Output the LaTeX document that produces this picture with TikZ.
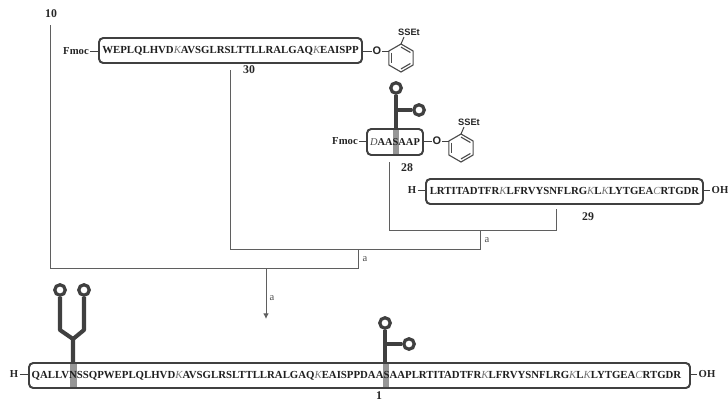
\documentclass[tikz,border=0pt]{standalone}
\usepackage{fontspec}
\setmainfont{Liberation Serif}
\newfontfamily\ringfont{Liberation Sans}
\usetikzlibrary{arrows.meta,backgrounds,calc}
\definecolor{stemgray}{RGB}{64,64,64}
\definecolor{bandgray}{RGB}{150,150,150}
\definecolor{linegray}{RGB}{95,95,95}
\newcommand{\lys}{{\mdseries\itshape\color{black!55}K}}
\newcommand{\cys}{{\mdseries\itshape\color{black!55}C}}
\newcommand{\asp}{{\mdseries\itshape\color{black!70}D}}
% thioester ring: #1 name, #2 box it hangs on, #3 x of O, #4 y of O
\newcommand{\thioring}[4]{
\node[oxy] (#1O) at (#3,#4) {O};
\draw[bond] (#2.east |- #1O) -- (#1O);
\foreach \k in {1,...,6} {\coordinate (#1r\k) at ($(#3+24,#4+7)+(30+60*\k:14 and -14)$);}
\draw[ringbond] (#1r1) -- (#1r2) -- (#1r3) -- (#1r4) -- (#1r5) -- (#1r6) -- cycle;
\draw[ringbond] ($(#3+24,#4+7)!0.78!(#1r6)$) -- ($(#3+24,#4+7)!0.78!(#1r1)$);
\draw[ringbond] ($(#3+24,#4+7)!0.78!(#1r2)$) -- ($(#3+24,#4+7)!0.78!(#1r3)$);
\draw[ringbond] ($(#3+24,#4+7)!0.78!(#1r4)$) -- ($(#3+24,#4+7)!0.78!(#1r5)$);
\draw[bond] (#1O) -- (#1r2);
\node[sset] (#1S) at (#3+32,#4-19) {SSEt};
\draw[bond] (#1r1) -- (#3+27,#4-14);
}
\tikzset{peptide/.style={rectangle, rounded corners=3pt, draw=stemgray, line width=1.4pt, inner sep=0pt, minimum height=25*0.025cm, font=\fontsize{7.68}{9}\selectfont\bfseries, text=black!88},
label/.style={font=\fontsize{8.4}{10}\selectfont\bfseries, inner sep=0pt, text=black!85},
endgroup/.style={font=\fontsize{7.6}{9}\selectfont\bfseries, inner sep=1pt, text=black!85},
oxy/.style={font=\ringfont\fontsize{7.8}{8}\selectfont\bfseries, inner sep=0.3pt, text=black!85},
sset/.style={font=\ringfont\fontsize{6.6}{8}\selectfont\bfseries, inner sep=0pt, text=black!85},
bond/.style={draw=black!75, line width=0.7pt},
ringbond/.style={draw=black!70, line width=0.8pt},
link/.style={draw=linegray, line width=0.7pt},
step label/.style={font=\fontsize{7.5}{8}\selectfont, inner sep=0pt, text=black!70},
stem/.style={draw=stemgray, line width=2.9pt, line join=round},
bead/.style={circle, draw=stemgray, line width=2.3pt, fill=white, inner sep=0pt, minimum size=10.5*0.025cm},
band/.style={fill=bandgray, draw=none}}
\begin{document}
\begin{tikzpicture}[x=0.025cm,y=-0.025cm]
\useasboundingbox (0,0) rectangle (728,402);
% building blocks
\node[peptide, minimum width=263*0.025cm] (p30) at (230.5,50.5) {WEPLQLHVD\lys AVSGLRSLTTLLRALGAQ\lys EAISPP};
\node[peptide, minimum width=56*0.025cm, minimum height=26*0.025cm, font=\fontsize{7.4}{9}\selectfont\bfseries] (p28) at (395,142) {\asp AASAAP};
\node[peptide, minimum width=277*0.025cm] (p29) at (564.5,191.5) {LRTITADTFR\lys LFRVYSNFLRG\lys L\lys LYTGEA\cys RTGDR};
\node[peptide, minimum width=661*0.025cm] (p1) at (359.5,375.5) {QALLVNSSQPWEPLQLHVD\lys AVSGLRSLTTLLRALGAQ\lys EAISPPDAASAAPLRTITADTFR\lys LFRVYSNFLRG\lys L\lys LYTGEA\cys RTGDR\kern4.3pt};
% end groups
\node[endgroup] (fmoc30) at (76,51) {Fmoc};
\node[endgroup] (fmoc28) at (345,141) {Fmoc};
\node[endgroup] (h29) at (412,190) {H};
\node[endgroup] (oh29) at (720,190) {OH};
\node[endgroup] (h1) at (14,374) {H};
\node[endgroup] (oh1) at (707,374) {OH};
\draw[bond] (fmoc30) -- (p30.west |- fmoc30);
\draw[bond] (fmoc28) -- (p28.west |- fmoc28);
\draw[bond] (h29) -- (p29.west |- h29);
\draw[bond] (p29.east |- oh29) -- (oh29);
\draw[bond] (h1) -- (p1.west |- h1);
\draw[bond] (p1.east |- oh1) -- (oh1);
\thioring{a}{p30}{377}{51}
\thioring{b}{p28}{437}{141}
% labels
\node[label] (n10) at (51,14) {10};
\node[label] (n30) at (249,70) {30};
\node[label] (n28) at (407,168) {28};
\node[label] (n29) at (588,217) {29};
\node[label] (n1) at (379,395.5) {1};
% glycans
\begin{scope}[on background layer]
\fill[band] (393,129) rectangle (399,155);
\fill[band] (383,363) rectangle (389,388);
\fill[band] (70,363) rectangle (77,388);
\end{scope}
\node[bead] (b1) at (396,88) {};
\node[bead] (b2) at (419,110) {};
\coordinate (s28) at (396,129);
\begin{scope}[on background layer]
\draw[stem] (s28) -- (b1);
\draw[stem] (396,110) -- (b2);
\end{scope}
\node[bead] (b3) at (385,323) {};
\node[bead] (b4) at (409,344) {};
\coordinate (s1) at (385,363);
\begin{scope}[on background layer]
\draw[stem] (s1) -- (b3);
\draw[stem] (385,344) -- (b4);
\end{scope}
\node[bead] (b5) at (60,290) {};
\node[bead] (b6) at (84,290) {};
\coordinate (s2) at (73,363);
\coordinate (fork) at (73,339);
\begin{scope}[on background layer]
\draw[stem] (s2) -- (fork) -- (60,330) -- (b5);
\draw[stem] (fork) -- (84,330) -- (b6);
\end{scope}
% synthesis scheme
\coordinate (c10) at (50,25);
\coordinate (c30) at (230,70);
\coordinate (c28) at (389,162);
\coordinate (c29) at (556,209);
\coordinate (j1) at (480,230);
\coordinate (j2) at (358,249);
\coordinate (j3) at (266,268);
\coordinate (c1) at (266,319);
\draw[link] (c28) |- (c29 |- j1) -- (c29);
\draw[link] (c30) |- (j1 |- j2) -- (j1);
\draw[link] (c10) |- (j2 |- j3) -- (j2);
\draw[link, -{Latex[length=4pt,width=4pt]}] (j3) -- (c1);
\node[step label] (a1) at (487,240) {a};
\node[step label] (a2) at (365,259) {a};
\node[step label] (a3) at (272,298) {a};
\end{tikzpicture}
\end{document}
